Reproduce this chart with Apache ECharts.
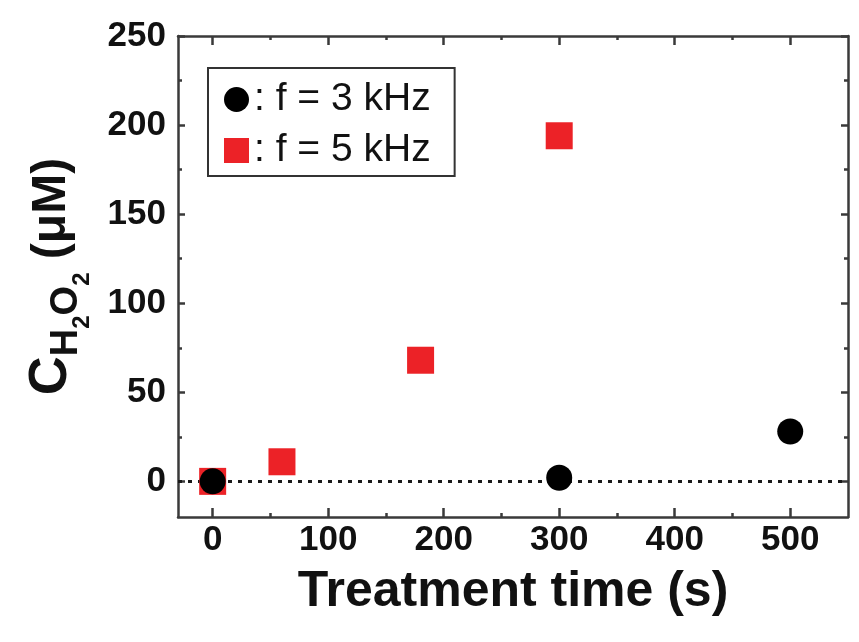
<!DOCTYPE html>
<html>
<head>
<meta charset="utf-8">
<script src="https://cdn.jsdelivr.net/npm/echarts@6/dist/echarts.min.js"></script>
<style>
html,body{margin:0;padding:0;background:#fff;}
#chart{width:859px;height:642px;}
</style>
</head>
<body>
<div id="chart"></div>
<script>
// ---- data ----
const seriesNames = ['f = 3 kHz', 'f = 5 kHz'];
const time3k = [0, 300, 500];
const conc3k = [0, 2, 28];
const time5k = [0, 60, 180, 300];
const conc5k = [0, 11, 68, 194];

const xMajorTicks = [0, 100, 200, 300, 400, 500];
const xMinorTicks = [50, 150, 250, 350, 450];
const yMajorTicks = [0, 50, 100, 150, 200, 250];
const yMinorTicks = [25, 75, 125, 175, 225];
const xRange = [-30, 550];
const yRange = [-20, 250];

const xTitle = 'Treatment time (s)';
const yTitle = '{c|C}{s|H}{ss|2}{s|O}{ss|2}{m| (μM)}';

// ---- styling ----
const FONT = 'Liberation Sans, Arial, sans-serif';
const AX = '#3a3a3a';
const lineStyle = { color: AX, width: 2.5 };

function xAxisDef(pos, ticks, len, withLine, withLabel) {
  return {
    type: 'value', position: pos, min: xRange[0], max: xRange[1],
    splitLine: { show: false },
    axisLine: { show: withLine, onZero: false, lineStyle: lineStyle },
    axisTick: { show: true, inside: true, length: len, customValues: ticks, lineStyle: { color: AX, width: 2.5 } },
    axisLabel: withLabel ? {
      show: true, customValues: ticks, fontSize: 35, fontWeight: 'bold', fontFamily: FONT, color: '#111', margin: 6
    } : { show: false }
  };
}
function yAxisDef(pos, ticks, len, withLine, withLabel) {
  return {
    type: 'value', position: pos, min: yRange[0], max: yRange[1],
    splitLine: { show: false },
    axisLine: { show: withLine, onZero: false, lineStyle: lineStyle },
    axisTick: { show: true, inside: true, length: len, customValues: ticks, lineStyle: { color: AX, width: 2.5 } },
    axisLabel: withLabel ? {
      show: true, customValues: ticks, fontSize: 35, fontWeight: 'bold', fontFamily: FONT, color: '#111', margin: 12
    } : { show: false }
  };
}

const xMain = xAxisDef('bottom', xMajorTicks, 9, true, true);
xMain.name = xTitle;
xMain.nameLocation = 'middle';
xMain.nameGap = 50;
xMain.nameTextStyle = { fontSize: 50, fontWeight: 'bold', fontFamily: FONT, color: '#111', lineHeight: 50 };

const yMain = yAxisDef('left', yMajorTicks, 7, true, true);
yMain.name = yTitle;
yMain.nameLocation = 'middle';
yMain.nameGap = 84;
yMain.nameTextStyle = {
  fontFamily: FONT, color: '#111', fontWeight: 'bold',
  rich: {
    c: { fontSize: 54, fontWeight: 'bold', fontFamily: FONT, color: '#111', verticalAlign: 'top' },
    s: { fontSize: 38, fontWeight: 'bold', fontFamily: FONT, color: '#111', verticalAlign: 'top', padding: [24, 0, 0, 0] },
    ss: { fontSize: 24, fontWeight: 'bold', fontFamily: FONT, color: '#111', verticalAlign: 'top', padding: [46, 0, 0, 0] },
    m: { fontSize: 48, fontWeight: 'bold', fontFamily: FONT, color: '#111', verticalAlign: 'top', padding: [4, 0, 0, 0] }
  }
};

const option = {
  animation: false,
  backgroundColor: '#fff',
  grid: { left: 178, right: 11, top: 36, bottom: 125, containLabel: false },
  legend: {
    orient: 'vertical', left: 208, top: 68,
    padding: [12, 24, 6, 16],
    itemGap: 12, itemWidth: 25, itemHeight: 25,
    borderColor: '#333', borderWidth: 2, backgroundColor: '#fff',
    data: seriesNames,
    formatter: ': {name}',
    textStyle: { fontSize: 39, fontFamily: FONT, color: '#111' },
    selectedMode: false
  },
  xAxis: [
    xMain,
    xAxisDef('top', xMajorTicks, 9, true, false),
    xAxisDef('bottom', xMinorTicks, 4, false, false),
    xAxisDef('top', xMinorTicks, 4, false, false)
  ],
  yAxis: [
    yMain,
    yAxisDef('right', yMajorTicks, 7, true, false),
    yAxisDef('left', yMinorTicks, 4, false, false),
    yAxisDef('right', yMinorTicks, 4, false, false)
  ],
  series: [
    {
      name: seriesNames[1], type: 'scatter', xAxisIndex: 0, yAxisIndex: 0,
      symbol: 'rect', symbolSize: 27, z: 3,
      itemStyle: { color: '#ec2227', opacity: 1 },
      emphasis: { disabled: true },
      data: time5k.map((t, i) => [t, conc5k[i]])
    },
    {
      name: seriesNames[0], type: 'scatter', xAxisIndex: 0, yAxisIndex: 0,
      symbol: 'circle', symbolSize: 26, z: 4,
      itemStyle: { color: '#000', opacity: 1 },
      emphasis: { disabled: true },
      data: time3k.map((t, i) => [t, conc3k[i]]),
      markLine: {
        silent: true, symbol: ['none', 'none'], z: 2,
        label: { show: false },
        lineStyle: { color: '#1a1a1a', type: [4, 6], width: 3 },
        data: [{ yAxis: 0 }]
      }
    }
  ]
};

const chart = echarts.init(document.getElementById('chart'), null, { renderer: 'canvas' });
chart.setOption(option);
</script>
</body>
</html>
